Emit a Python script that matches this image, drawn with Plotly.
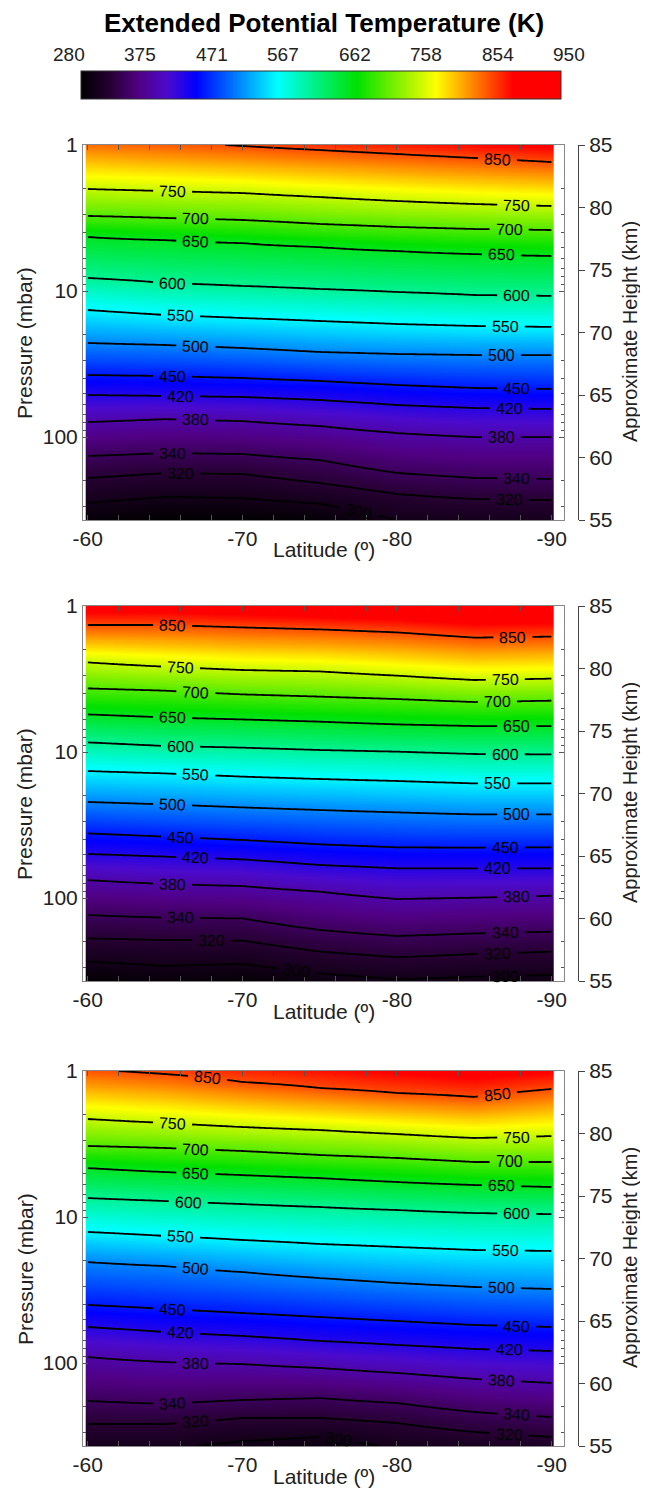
import numpy as np
import plotly.graph_objects as go

# ---------------- data ----------------
lat = [-60, -65, -70, -75, -80, -85, -90]
levels = [300, 320, 340, 380, 420, 450, 500, 550, 600, 650, 700, 750, 850]

# approximate height (km) of each isotherm at each latitude (None = outside plotted range)
p1_iso = {
    850: [None, None, 84.92, 84.6, 84.28, 83.96, 83.64],
    750: [81.48, 81.32, 81.16, 80.84, 80.52, 80.28, 80.12],
    700: [79.32, 79.16, 79.0, 78.68, 78.44, 78.28, 78.2],
    650: [77.64, 77.4, 77.16, 76.84, 76.52, 76.28, 76.12],
    600: [74.36, 73.96, 73.72, 73.48, 73.24, 73.0, 72.92],
    550: [71.8, 71.4, 71.16, 70.92, 70.68, 70.52, 70.44],
    500: [69.16, 69.0, 68.76, 68.44, 68.28, 68.2, 68.2],
    450: [66.6, 66.52, 66.36, 66.12, 65.8, 65.56, 65.48],
    420: [65.0, 64.92, 64.84, 64.6, 64.2, 63.96, 63.88],
    380: [62.84, 63.08, 62.92, 62.52, 61.96, 61.64, 61.64],
    340: [60.12, 60.36, 60.28, 59.8, 58.76, 58.36, 58.28],
    320: [58.36, 58.76, 58.68, 57.96, 57.08, 56.68, 56.6],
    300: [56.36, 56.84, 56.76, 56.3, None, None, None],
}
p1_top = [835, 843, 852, 862, 870, 879, 887]
p1_bottom = [286, 281, 282, 285, 300.5, 302, 303]

p2_iso = {
    850: [83.48, 83.48, 83.29, 83.13, 82.89, 82.47, 82.55],
    750: [80.49, 80.15, 79.88, 79.77, 79.43, 79.08, 79.19],
    700: [78.41, 78.23, 77.93, 77.75, 77.56, 77.32, 77.43],
    650: [76.33, 76.09, 75.93, 75.75, 75.53, 75.4, 75.4],
    600: [74.09, 73.8, 73.67, 73.48, 73.35, 73.16, 73.13],
    550: [71.8, 71.61, 71.35, 71.16, 71.0, 70.81, 70.81],
    500: [69.32, 69.13, 68.89, 68.68, 68.49, 68.33, 68.33],
    450: [66.81, 66.55, 66.28, 65.93, 65.69, 65.67, 65.69],
    420: [65.16, 64.95, 64.73, 64.28, 64.01, 64.01, 64.01],
    380: [63.08, 62.76, 62.6, 62.15, 61.56, 61.67, 61.83],
    340: [60.28, 60.07, 60.01, 59.08, 58.6, 58.81, 58.95],
    320: [58.41, 58.28, 58.23, 57.35, 56.9, 57.16, 57.35],
    300: [56.55, 56.2, 56.36, 55.61, 55.13, 55.35, 55.48],
}
p2_top = [900, 898, 905, 910, 915, 925, 922]
p2_bottom = [283, 288, 285, 293, 298.5, 296, 295]

p3_iso = {
    850: [None, 84.76, 84.12, 83.64, 83.24, 82.92, 83.56],
    750: [81.16, 80.84, 80.52, 80.28, 79.96, 79.64, 79.8],
    700: [79.0, 78.84, 78.6, 78.28, 78.04, 77.72, 77.72],
    650: [77.24, 76.92, 76.68, 76.44, 76.12, 75.88, 75.72],
    600: [74.84, 74.6, 74.36, 74.12, 73.88, 73.64, 73.56],
    550: [72.12, 71.8, 71.48, 71.16, 70.92, 70.68, 70.6],
    500: [69.72, 69.4, 68.92, 68.44, 68.04, 67.72, 67.56],
    450: [66.28, 65.96, 65.64, 65.32, 65.0, 64.68, 64.52],
    420: [64.52, 64.12, 63.8, 63.4, 63.08, 62.76, 62.6],
    380: [62.12, 61.72, 61.56, 61.24, 60.84, 60.36, 60.04],
    340: [58.6, 58.36, 58.68, 58.84, 58.44, 57.72, 57.32],
    320: [56.76, 56.76, 57.24, 57.24, 56.84, 56.12, 55.72],
    300: [None, None, 55.4, 55.72, None, None, None],
}
p3_top = [846, 856, 866, 876, 886, 895, 885]
p3_bottom = [303, 303, 296, 293, 302, 306, 310]

cbar_labels = ["280", "375", "471", "567", "662", "758", "854", "950"]
height_ticks = [55, 60, 65, 70, 75, 80, 85]
lat_ticks = [-60, -70, -80, -90]

# ---------------- label placement (layout: latitude of each in-line label) ----------------
LBL_A = {850: (-65.5, -86.5), 750: (-65.5, -87.75), 700: (-67.0, -87.25),
         650: (-67.0, -86.75), 600: (-65.5, -87.75), 550: (-66.0, -87.0),
         500: (-67.0, -86.75), 450: (-65.5, -87.75), 420: (-66.0, -87.25),
         380: (-67.0, -86.75), 340: (-65.5, -87.75), 320: (-66.0, -87.25)}
LBL_B = {850: (-65.5, -87.5), 750: (-66.0, -87.0), 700: (-67.0, -86.5),
         650: (-65.5, -87.75), 600: (-66.0, -87.0), 550: (-67.0, -86.5),
         500: (-65.5, -87.75), 450: (-66.0, -87.0), 420: (-67.0, -86.5),
         380: (-65.5, -87.75), 340: (-66.0, -87.0), 320: (-68.0, -86.5),
         300: (-73.5, -87.0)}
label_pos = [
    {**LBL_A, 300: (-77.5,)},
    LBL_B,
    {**LBL_A, 850: (-67.75, -86.5), 600: (-66.5, -87.75), 320: (-67.0, -87.25),
     300: (-76.25,)},
]
GAP = 1.25  # half-width (deg) of the break in a line around its label

# ---------------- build grids ----------------
km_grid = np.linspace(55, 85, 241)
lat_fine = np.round(np.arange(-60, -90.001, -0.25), 2)


def build_field(iso, top, bottom):
    z = np.zeros((len(km_grid), len(lat)))
    for j in range(len(lat)):
        pts = [(55.0, bottom[j]), (85.0, top[j])]
        for lev, vals in iso.items():
            if vals[j] is not None:
                pts.append((vals[j], lev))
        pts.sort()
        k = np.array([p[0] for p in pts])
        t = np.array([p[1] for p in pts])
        z[:, j] = np.interp(km_grid, k, t)
    lat_arr = np.array(lat, dtype=float)
    return np.array([np.interp(-lat_fine, -lat_arr, row) for row in z])


fields = [build_field(p1_iso, p1_top, p1_bottom),
          build_field(p2_iso, p2_top, p2_bottom),
          build_field(p3_iso, p3_top, p3_bottom)]

cmap = [
    [0.0, 'rgb(0,0,0)'],
    [0.06, 'rgb(38,0,50)'],
    [0.12, 'rgb(80,0,130)'],
    [0.18, 'rgb(75,10,205)'],
    [0.24, 'rgb(0,0,255)'],
    [0.41, 'rgb(0,255,255)'],
    [0.575, 'rgb(0,225,0)'],
    [0.74, 'rgb(255,255,0)'],
    [0.90, 'rgb(255,0,0)'],
    [1.0, 'rgb(255,0,0)'],
]

# page geometry (the page body adds an 8 px margin around the figure)
BODY = 8
W, H = 640, 1480


def PX(x):
    return (x - BODY) / W


def PY(y):
    return 1 - (y - BODY) / H


FONT = "Liberation Sans, Arial, sans-serif"
X_L, X_R = 83, 564
tops = [145, 606, 1071]
panel_h = 375
x_range = [-59.7, -90.8]
px_per_deg = (X_R - X_L) / abs(x_range[1] - x_range[0])
px_per_km = panel_h / 30.0
p_bottom = 10 ** (30 / 11.68)

fig = go.Figure()
layout = dict(width=W, height=H,
              margin=dict(l=0, r=0, t=0, b=0, pad=0, autoexpand=False),
              paper_bgcolor='white', plot_bgcolor='white',
              font=dict(family=FONT, size=21, color='#222'), showlegend=False)
annotations = []


def level_height(z, col, lev):
    return float(np.interp(lev, z[:, col], km_grid))


for i, z in enumerate(fields):
    xa = 'x' if i == 0 else f'x{i + 1}'
    ya_km = 'y' if i == 0 else f'y{2 * i + 1}'
    ya_p = f'y{2 * i + 2}'
    top = tops[i]
    dom = [PY(top + panel_h), PY(top)]

    hm = go.Heatmap(x=lat_fine, y=km_grid, z=z, zmin=280, zmax=950, colorscale=cmap,
                    zsmooth='best', xaxis=xa, yaxis=ya_km, hoverinfo='skip',
                    showscale=(i == 0))
    if i == 0:
        hm.colorbar = dict(orientation='h', x=PX(321), xanchor='center',
                           y=PY(71), yanchor='top', len=480, lenmode='pixels',
                           thickness=28, thicknessmode='pixels', xpad=0, ypad=0,
                           outlinewidth=1, outlinecolor='#333',
                           showticklabels=False, ticks='')
    fig.add_trace(hm)

    for lev in levels:
        labs = [L for L in label_pos[i].get(lev, ()) if L is not None]
        cuts = [-60.0]
        for L in sorted(labs, reverse=True):
            cuts += [L + GAP, L - GAP]
        cuts.append(-90.0)
        for a, b in zip(cuts[0::2], cuts[1::2]):
            m = (lat_fine <= a + 1e-9) & (lat_fine >= b - 1e-9)
            if m.sum() < 2:
                continue
            fig.add_trace(go.Contour(
                x=lat_fine[m], y=km_grid, z=z[:, m], xaxis=xa, yaxis=ya_km,
                autocontour=False,
                contours=dict(start=lev, end=lev, size=10, coloring='none',
                              showlabels=False),
                line=dict(color='black', width=1.8),
                showscale=False, hoverinfo='skip'))
        for L in labs:
            col = int(np.argmin(np.abs(lat_fine - L)))
            zc = z[:, col]
            if not (zc.min() < lev < zc.max()):
                continue
            yk = level_height(z, col, lev)
            c1 = max(col - 2, 0)
            c2 = min(col + 2, len(lat_fine) - 1)
            dk = level_height(z, c2, lev) - level_height(z, c1, lev)
            dx = (c2 - c1) * 0.25 * px_per_deg
            ang = float(np.degrees(np.arctan2(-dk * px_per_km, dx)))
            annotations.append(dict(text=str(lev), x=L, y=yk, xref=xa, yref=ya_km,
                                    showarrow=False, textangle=ang,
                                    font=dict(size=16, color='black'),
                                    xanchor='center', yanchor='middle'))
    fig.add_trace(go.Scatter(x=[], y=[], xaxis=xa, yaxis=ya_p, hoverinfo='skip'))

    xkey = 'xaxis' if i == 0 else f'xaxis{i + 1}'
    ykm_key = 'yaxis' if i == 0 else f'yaxis{2 * i + 1}'
    yp_key = f'yaxis{2 * i + 2}'
    layout[xkey] = dict(domain=[PX(X_L), PX(X_R)], anchor=ya_km, range=x_range,
                        tickvals=lat_ticks, ticktext=[str(v) for v in lat_ticks],
                        ticks='inside', ticklen=5, tickcolor='#555',
                        showline=True, linecolor='#888', linewidth=1,
                        mirror='allticks', showgrid=False, zeroline=False,
                        minor=dict(dtick=2, ticks='inside', ticklen=3, tickcolor='#555'),
                        tickfont=dict(size=21))
    layout[ykm_key] = dict(domain=dom, anchor='free', position=PX(578), side='right',
                           range=[55, 85], tickvals=height_ticks, ticks='outside',
                           ticklen=6, tickcolor='#444', showline=True, linecolor='#444',
                           linewidth=1, showgrid=False, zeroline=False,
                           tickfont=dict(size=21))
    layout[yp_key] = dict(overlaying=ya_km, side='left', anchor=xa, type='log',
                          range=[np.log10(p_bottom), 0], dtick=1, ticks='inside',
                          ticklen=5, tickcolor='#555', showline=True, linecolor='#888',
                          linewidth=1, mirror='allticks', showgrid=False, zeroline=False,
                          minor=dict(ticks='inside', ticklen=3, tickcolor='#555'),
                          tickfont=dict(size=21))

    off = top - 145
    annotations.append(dict(text="Latitude (º)", x=PX(323.5), y=PY(550 + off),
                            xref='paper', yref='paper', showarrow=False,
                            font=dict(size=21), xanchor='center', yanchor='middle'))
    annotations.append(dict(text="Pressure (mbar)", x=PX(25), y=PY(343 + off),
                            xref='paper', yref='paper', showarrow=False, textangle=-90,
                            font=dict(size=21), xanchor='center', yanchor='middle'))
    annotations.append(dict(text="Approximate Height (km)", x=PX(630), y=PY(332 + off),
                            xref='paper', yref='paper', showarrow=False, textangle=-90,
                            font=dict(size=20), xanchor='center', yanchor='middle'))

annotations.append(dict(text="<b>Extended Potential Temperature (K)</b>", x=PX(324),
                        y=PY(23), xref='paper', yref='paper', showarrow=False,
                        font=dict(size=26, color='black'), xanchor='center', yanchor='middle'))
for k, lab in enumerate(cbar_labels):
    annotations.append(dict(text=lab, x=PX(69 + k * 71.43), y=PY(55),
                            xref='paper', yref='paper', showarrow=False,
                            font=dict(size=19, color='#222'), xanchor='center',
                            yanchor='middle'))

layout['annotations'] = annotations
fig.update_layout(**layout)
fig.write_html("out.html")
